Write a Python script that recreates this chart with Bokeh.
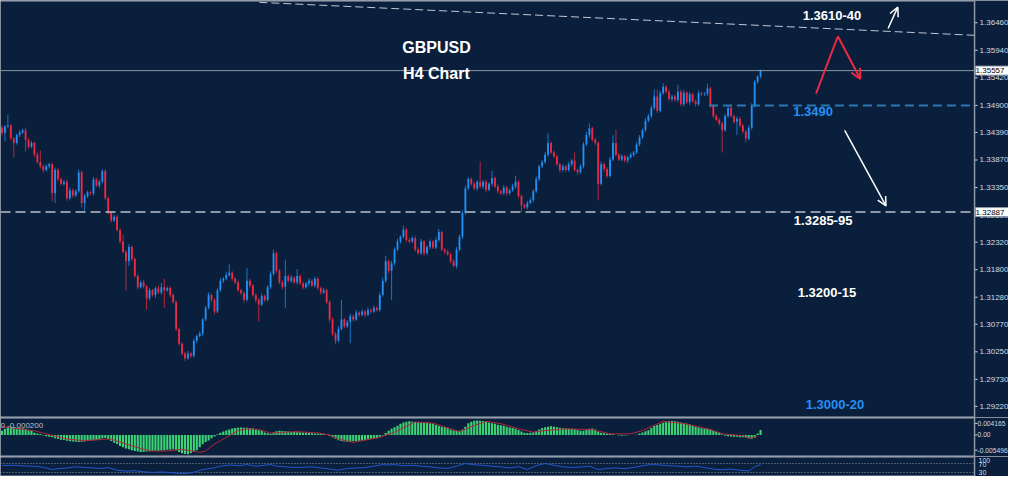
from bokeh.plotting import figure
from bokeh.layouts import column
from bokeh.models import Range1d, Span, Label, Arrow, OpenHead, ColumnDataSource
from bokeh.core.properties import value
from bokeh.embed import file_html
from bokeh.resources import INLINE

# ---------------- data ----------------
first_open = 1.3448
closes = [
    1.3438, 1.3450, 1.3452, 1.3428, 1.3419, 1.3434, 1.3439, 1.3443, 1.3425, 1.3412,
    1.3419, 1.3397, 1.3383, 1.3375, 1.3368, 1.3375, 1.3379, 1.3324, 1.3368, 1.3351,
    1.3342, 1.3346, 1.3315, 1.3330, 1.3320, 1.3328, 1.3364, 1.3306, 1.3319, 1.3326,
    1.3324, 1.3350, 1.3339, 1.3346, 1.3366, 1.3315, 1.3287, 1.3273, 1.3280, 1.3255,
    1.3233, 1.3214, 1.3196, 1.3223, 1.3200, 1.3168, 1.3147, 1.3156, 1.3148, 1.3126,
    1.3141, 1.3132, 1.3145, 1.3137, 1.3147, 1.3141, 1.3145, 1.3132, 1.3119, 1.3068,
    1.3040, 1.3022, 1.3013, 1.3022, 1.3017, 1.3046, 1.3055, 1.3059, 1.3086, 1.3108,
    1.3132, 1.3123, 1.3101, 1.3141, 1.3159, 1.3163, 1.3170, 1.3174, 1.3163, 1.3156,
    1.3141, 1.3136, 1.3123, 1.3159, 1.3150, 1.3132, 1.3123, 1.3114, 1.3130, 1.3123,
    1.3147, 1.3172, 1.3211, 1.3178, 1.3156, 1.3148, 1.3168, 1.3159, 1.3165, 1.3156,
    1.3168, 1.3154, 1.3147, 1.3154, 1.3159, 1.3150, 1.3163, 1.3145, 1.3137, 1.3141,
    1.3119, 1.3086, 1.3059, 1.3046, 1.3068, 1.3086, 1.3073, 1.3081, 1.3092, 1.3086,
    1.3099, 1.3095, 1.3101, 1.3095, 1.3104, 1.3101, 1.3108, 1.3104, 1.3132, 1.3159,
    1.3196, 1.3178, 1.3192, 1.3218, 1.3233, 1.3242, 1.3256, 1.3236, 1.3233, 1.3240,
    1.3218, 1.3211, 1.3233, 1.3211, 1.3223, 1.3233, 1.3222, 1.3236, 1.3251, 1.3218,
    1.3214, 1.3209, 1.3196, 1.3187, 1.3218, 1.3242, 1.3287, 1.3333, 1.3351, 1.3342,
    1.3333, 1.3346, 1.3337, 1.3346, 1.3331, 1.3342, 1.3353, 1.3337, 1.3328, 1.3324,
    1.3335, 1.3324, 1.3330, 1.3337, 1.3346, 1.3319, 1.3302, 1.3298, 1.3306, 1.3311,
    1.3328, 1.3351, 1.3375, 1.3383, 1.3397, 1.3419, 1.3401, 1.3394, 1.3379, 1.3368,
    1.3375, 1.3368, 1.3379, 1.3386, 1.3368, 1.3364, 1.3375, 1.3416, 1.3434, 1.3447,
    1.3425, 1.3419, 1.3342, 1.3379, 1.3370, 1.3357, 1.3388, 1.3419, 1.3397, 1.3388,
    1.3394, 1.3386, 1.3392, 1.3397, 1.3401, 1.3416, 1.3430, 1.3443, 1.3461, 1.3470,
    1.3485, 1.3507, 1.3480, 1.3513, 1.3525, 1.3516, 1.3502, 1.3507, 1.3500, 1.3516,
    1.3492, 1.3514, 1.3496, 1.3511, 1.3498, 1.3492, 1.3513, 1.3511, 1.3512, 1.3522,
    1.3489, 1.3470, 1.3463, 1.3456, 1.3443, 1.3470, 1.3485, 1.3470, 1.3459, 1.3465,
    1.3452, 1.3441, 1.3427, 1.3448, 1.3489, 1.3534, 1.3544, 1.35557,
]
upper_wick_pips = [
    4, 3, 20, 3, 2, 3, 4, 3, 5, 3,
    4, 3, 5, 22, 3, 4, 3, 3, 5, 3,
    4, 3, 3, 5, 3, 4, 5, 3, 4, 3,
    3, 5, 3, 4, 4, 4, 3, 3, 4, 3,
    3, 13, 3, 5, 3, 3, 4, 3, 5, 3,
    4, 3, 3, 5, 8, 16, 3, 4, 3, 3,
    3, 3, 3, 5, 3, 4, 3, 5, 3, 4,
    5, 3, 3, 4, 5, 3, 6, 16, 3, 3,
    4, 3, 3, 24, 4, 3, 3, 3, 5, 3,
    4, 5, 7, 3, 3, 4, 31, 3, 5, 3,
    13, 3, 4, 3, 5, 3, 4, 3, 3, 5,
    3, 3, 4, 3, 5, 37, 3, 4, 5, 3,
    5, 3, 4, 3, 5, 3, 4, 3, 5, 6,
    10, 3, 5, 4, 5, 3, 7, 3, 4, 3,
    3, 4, 5, 3, 3, 4, 3, 5, 6, 3,
    3, 4, 3, 3, 5, 4, 5, 6, 4, 3,
    4, 3, 38, 3, 4, 3, 13, 3, 4, 3,
    4, 3, 3, 5, 11, 3, 3, 3, 4, 5,
    4, 5, 3, 4, 5, 18, 3, 4, 3, 3,
    4, 3, 5, 3, 15, 3, 4, 5, 6, 9,
    3, 4, 3, 5, 3, 3, 5, 15, 25, 3,
    4, 3, 3, 4, 3, 5, 4, 3, 5, 4,
    5, 13, 13, 5, 7, 3, 4, 3, 4, 13,
    3, 5, 3, 4, 3, 3, 5, 3, 3, 9,
    3, 3, 4, 3, 3, 4, 5, 7, 3, 4,
    3, 3, 3, 4, 5, 4, 3, 2,
]
lower_wick_pips = [
    5, 16, 3, 4, 27, 3, 4, 3, 22, 4,
    3, 4, 3, 4, 5, 3, 4, 15, 18, 4,
    3, 4, 5, 3, 4, 3, 3, 9, 15, 4,
    3, 4, 3, 5, 3, 4, 3, 4, 3, 3,
    4, 3, 55, 9, 4, 3, 4, 3, 3, 22,
    4, 3, 5, 3, 4, 33, 3, 4, 3, 4,
    3, 4, 5, 3, 4, 3, 5, 3, 4, 3,
    3, 4, 5, 3, 3, 4, 3, 3, 4, 3,
    3, 4, 5, 3, 4, 3, 5, 31, 3, 4,
    3, 4, 3, 4, 3, 5, 40, 3, 4, 3,
    4, 3, 4, 3, 5, 3, 4, 3, 4, 3,
    4, 5, 4, 7, 3, 3, 4, 3, 40, 4,
    3, 4, 3, 5, 3, 4, 3, 3, 4, 3,
    4, 5, 55, 4, 3, 4, 3, 4, 3, 3,
    4, 3, 3, 5, 3, 4, 3, 3, 4, 3,
    5, 3, 4, 3, 5, 3, 4, 3, 3, 4,
    3, 4, 3, 4, 5, 3, 4, 3, 4, 3,
    3, 4, 3, 3, 4, 4, 13, 3, 4, 3,
    4, 3, 4, 3, 3, 4, 3, 4, 3, 5,
    3, 4, 3, 4, 3, 5, 3, 4, 3, 4,
    3, 4, 31, 3, 5, 4, 3, 3, 4, 3,
    3, 4, 5, 3, 4, 3, 3, 4, 3, 3,
    4, 3, 4, 3, 3, 4, 3, 5, 3, 4,
    3, 4, 3, 5, 3, 4, 3, 3, 3, 4,
    3, 4, 3, 4, 42, 3, 4, 3, 4, 25,
    3, 4, 7, 3, 4, 3, 3, 3,
]
# MACD histogram, in units of 0.0001
macd_hist_e4 = [
    15, 22, 30, 30, 29, 26, 26, 24, 22, 17,
    15, 8, 5, 3, -2, -5, -7, -8, -12, -15,
    -17, -18, -21, -23, -24, -25, -26, -25, -24, -22,
    -20, -19, -18, -16, -12, -11, -15, -22, -28, -33,
    -40, -45, -49, -52, -55, -58, -60, -62, -61, -60,
    -59, -58, -57, -58, -56, -55, -54, -53, -52, -55,
    -62, -66, -69, -70, -65, -60, -55, -45, -34, -26,
    -20, -12, -6, 2, 8, 12, 16, 20, 23, 25,
    26, 27, 26, 26, 25, 24, 20, 17, 14, 9,
    6, 4, 9, 13, 15, 14, 13, 12, 11, 11,
    10, 10, 9, 8, 7, 6, 5, 5, 4, 3,
    0, -4, -8, -14, -19, -22, -24, -25, -25, -23,
    -22, -21, -20, -18, -16, -14, -13, -12, -7, -2,
    7, 15, 22, 28, 33, 40, 45, 48, 49, 48,
    47, 46, 45, 44, 43, 42, 40, 37, 33, 30,
    28, 25, 20, 16, 14, 15, 20, 30, 42, 48,
    51, 52, 51, 50, 48, 45, 42, 40, 37, 35,
    33, 30, 27, 25, 22, 18, 12, 8, 7, 8,
    10, 14, 20, 25, 28, 30, 31, 30, 28, 26,
    24, 23, 22, 22, 21, 18, 15, 15, 18, 22,
    23, 20, 12, 8, 6, 5, 4, 2, 0, -2,
    -3, -2, -1, 0, 0, 1, 5, 9, 13, 17,
    25, 32, 36, 40, 44, 47, 49, 50, 49, 48,
    45, 42, 40, 38, 34, 30, 27, 24, 22, 21,
    19, 15, 12, 9, 2, -3, -5, -6, -7, -7,
    -8, -8, -9, -12, -14, -10, 5, 18,
]
signal_idx = [0, 11, 17, 22, 28, 33, 37, 42, 50, 56, 61, 67, 69, 72, 76, 80, 83, 87, 91, 100,
              107, 111, 114, 119, 122, 128, 133, 140, 146, 155, 160, 164, 169, 175, 180, 184,
              191, 200, 206, 213, 217, 224, 231, 240, 244, 251, 253, 256]
signal_e4 = [30, 15, -2, -15, -21, -17, -15, -33, -58, -58, -52, -63, -58, -33, -9, 16, 22, 20, 7, 12,
             7, 0, -15, -27, -21, -9, 10, 47, 43, 12, 34, 49, 41, 22, 10, 16,
             22, 19, 4, 4, 16, 49, 41, 20, 4, -3, -12, -5]
rsi_idx = [0, 3, 6, 9, 12, 15, 17, 19, 22, 25, 28, 31, 34, 36, 39, 42, 45, 48, 51, 54,
           57, 60, 62, 64, 66, 68, 71, 74, 77, 80, 83, 86, 89, 91, 93, 96, 99, 102, 105, 108,
           111, 114, 117, 120, 123, 126, 129, 131, 133, 136, 139, 142, 145, 148, 151, 154, 157, 160, 163, 166,
           169, 172, 175, 178, 181, 184, 187, 190, 193, 196, 199, 202, 205, 208, 211, 214, 217, 220, 223, 226,
           229, 232, 235, 238, 241, 244, 247, 250, 253, 255, 257]
rsi_val = [61, 62, 60, 58, 57, 50, 43, 47, 50, 55, 52, 50, 48, 52, 40, 36, 38, 33, 30, 32,
           30, 26, 25, 28, 35, 43, 48, 58, 63, 60, 65, 58, 62, 66, 58, 55, 52, 53, 55, 50,
           45, 40, 48, 50, 52, 58, 65, 63, 65, 60, 62, 58, 55, 50, 48, 58, 70, 64, 62, 58,
           55, 50, 56, 43, 60, 70, 62, 55, 52, 54, 58, 43, 48, 50, 47, 52, 60, 65, 63, 60,
           58, 55, 58, 52, 45, 42, 45, 40, 37, 55, 65]

price_ticks = [1.36460, 1.35940, 1.35420, 1.34900, 1.34390, 1.33870, 1.33350, 1.32830,
               1.32320, 1.31800, 1.31280, 1.30770, 1.30250, 1.29730, 1.29220]
price_tick_labels = ["%.5f" % t for t in price_ticks]
macd_ticks = [0.004165, 0.0, -0.005496]
macd_tick_labels = ["0.004165", "0.00", "-0.005496"]
rsi_levels = [70, 30]
rsi_label_text = ["100", "70", "30"]
rsi_label_pos = [83, 66, 29]

bid_price = 1.35557
support_price = 1.32887
pivot_price = 1.34900
pivot_from_idx = 239.5
trend_x = [87.2, 329.5]
trend_y = [1.36845, 1.36223]

titles = [("GBPUSD", 147.2, 1.35985), ("H4 Chart", 147.2, 1.35509)]
level_notes = [("1.3610-40", 281.2, 1.36589, "#ffffff"),
               ("1.3490", 274.8, 1.34777, "#2290f5"),
               ("1.3285-95", 278.2, 1.32728, "#ffffff"),
               ("1.3200-15", 279.5, 1.31373, "#ffffff"),
               ("1.3000-20", 282.2, 1.29250, "#2290f5")]
white_arrows = [((300.2, 1.36351), (303.5, 1.36754)), ((285.5, 1.34430), (299.5, 1.33002))]
red_path = [(275.8, 1.35125), (283.2, 1.36205), (290.8, 1.35399)]

# ---------------- styling ----------------
BG = "#0a1f3c"
UP = "#2290f5"
DN = "#ee2a44"
SEP = "#a3abb8"
AXIS = "#8d97a6"
TXT = "#d4dae2"
W = 1008
FONT = "Liberation Sans"
AX_X = 329.5          # position of the price scale line (in bar units)

N = len(closes)
idx = list(range(N))
opens = [first_open] + closes[:-1]
highs = [max(o, c) + u * 1e-4 for o, c, u in zip(opens, closes, upper_wick_pips)]
lows = [min(o, c) - d * 1e-4 for o, c, d in zip(opens, closes, lower_wick_pips)]
colors = [UP if c >= o else DN for o, c in zip(opens, closes)]

xr = Range1d(-0.5, 341.0)


def base(h, yr):
    f = figure(width=W, height=h, x_range=xr, y_range=yr, output_backend="svg",
               toolbar_location=None, background_fill_color=BG, border_fill_color=BG,
               x_axis_location=None, y_axis_location=None,
               min_border_left=0, min_border_right=0, min_border_top=0, min_border_bottom=0)
    f.grid.visible = False
    f.outline_line_color = None
    # price-scale line
    f.add_layout(Span(location=AX_X, dimension="height", line_color=AXIS, line_width=1.5))
    # panel separators (half of a 2px line is visible at each frame edge)
    f.segment(x0=[-0.5, -0.5], y0=[yr.start, yr.end], x1=[AX_X, AX_X], y1=[yr.start, yr.end],
              line_color=SEP, line_width=2)
    return f


def scale(f, ticks, labels, size="8px", offset=6, with_ticks=True):
    if with_ticks:
        f.segment(x0=[AX_X] * len(ticks), y0=ticks, x1=[AX_X + 1.0] * len(ticks), y1=ticks,
                  line_color=TXT, line_width=1)
    f.text(x=[AX_X] * len(ticks), y=ticks, text=labels, x_offset=offset,
           text_baseline="middle", text_align="left", text_color=TXT,
           text_font=value(FONT), text_font_size=value(size))


# ---------------- main price panel ----------------
yr_main = Range1d(1.2901, 1.3688)
p = base(417, yr_main)
scale(p, price_ticks, price_tick_labels, size="8px", offset=5)

src = ColumnDataSource(dict(x=idx, h=highs, l=lows,
                            top=[max(o, c) for o, c in zip(opens, closes)],
                            bottom=[min(o, c) for o, c in zip(opens, closes)],
                            color=colors))
p.segment(x0="x", y0="h", x1="x", y1="l", source=src, line_color="color",
          line_width=1, line_alpha=0.75)
p.vbar(x="x", width=0.62, top="top", bottom="bottom", source=src,
       fill_color="color", line_color=None)

p.segment(x0=[-0.5], y0=[bid_price], x1=[AX_X], y1=[bid_price], line_color="#8995a6", line_width=1)
p.segment(x0=[-0.5], y0=[support_price], x1=[AX_X], y1=[support_price],
          line_color="#b8c0cc", line_width=1.5, line_dash="10 5")
p.segment(x0=[pivot_from_idx], y0=[pivot_price], x1=[AX_X], y1=[pivot_price],
          line_color="#2878b4", line_width=2, line_dash="9 5")
p.line(trend_x, trend_y, line_color="#c0c8d4", line_width=1, line_dash="8 4")

for txt, x, y in titles:
    p.add_layout(Label(x=x, y=y, text=txt, text_align="center", text_baseline="middle",
                       text_color="#ffffff", text_font=FONT, text_font_style="bold",
                       text_font_size="16px"))
for txt, x, y, col in level_notes:
    p.add_layout(Label(x=x, y=y, text=txt, text_align="center", text_baseline="middle",
                       text_color=col, text_font=FONT, text_font_style="bold",
                       text_font_size="13px"))

for (x0, y0), (x1, y1) in white_arrows:
    p.add_layout(Arrow(end=OpenHead(line_color="#ffffff", line_width=1.5, size=9),
                       x_start=x0, y_start=y0, x_end=x1, y_end=y1,
                       line_color="#ffffff", line_width=1.5))
p.add_layout(Arrow(end=None, x_start=red_path[0][0], y_start=red_path[0][1],
                   x_end=red_path[1][0], y_end=red_path[1][1], line_color=DN, line_width=2))
p.add_layout(Arrow(end=OpenHead(line_color=DN, line_width=2, size=10),
                   x_start=red_path[1][0], y_start=red_path[1][1],
                   x_end=red_path[2][0], y_end=red_path[2][1], line_color=DN, line_width=2))

for price in (bid_price, support_price):
    p.add_layout(Label(x=AX_X, y=price, x_offset=1, text="  %.5f  " % price,
                       text_baseline="middle", text_color="#000000", text_font=FONT,
                       text_font_size="8px", background_fill_color="#ffffff",
                       border_line_color="#8d97a6"))

# ---------------- MACD panel ----------------
yr_macd = Range1d(-0.0078, 0.0063)
p2 = base(39, yr_macd)
p2.vbar(x=idx, top=[v * 1e-4 for v in macd_hist_e4], bottom=0, width=0.72,
        fill_color="#3cd474", line_color=None)
p2.line(signal_idx, [v * 1e-4 for v in signal_e4], line_color="#b3263c", line_width=1)
scale(p2, macd_ticks, macd_tick_labels, size="6.7px", offset=3)
p2.add_layout(Label(x=-0.5, y=0.0035, text="0 -0.000200", text_baseline="middle",
                    text_color="#b8c0cc", text_font=FONT, text_font_size="8px"))

# ---------------- oscillator panel ----------------
yr_osc = Range1d(12, 101)
p3 = base(20, yr_osc)
p3.segment(x0=[-0.5] * len(rsi_levels), y0=rsi_levels, x1=[AX_X] * len(rsi_levels), y1=rsi_levels,
           line_color="#8d97a6", line_width=1, line_dash="1 2")
p3.line(rsi_idx, rsi_val, line_color="#2456d0", line_width=1)
p3.text(x=[AX_X] * len(rsi_label_text), y=rsi_label_pos, text=rsi_label_text, x_offset=4,
        text_baseline="middle", text_color=TXT, text_font=value(FONT), text_font_size=value("7px"))

layout = column(p, p2, p3)
open("out.html", "w").write(file_html(layout, INLINE))
